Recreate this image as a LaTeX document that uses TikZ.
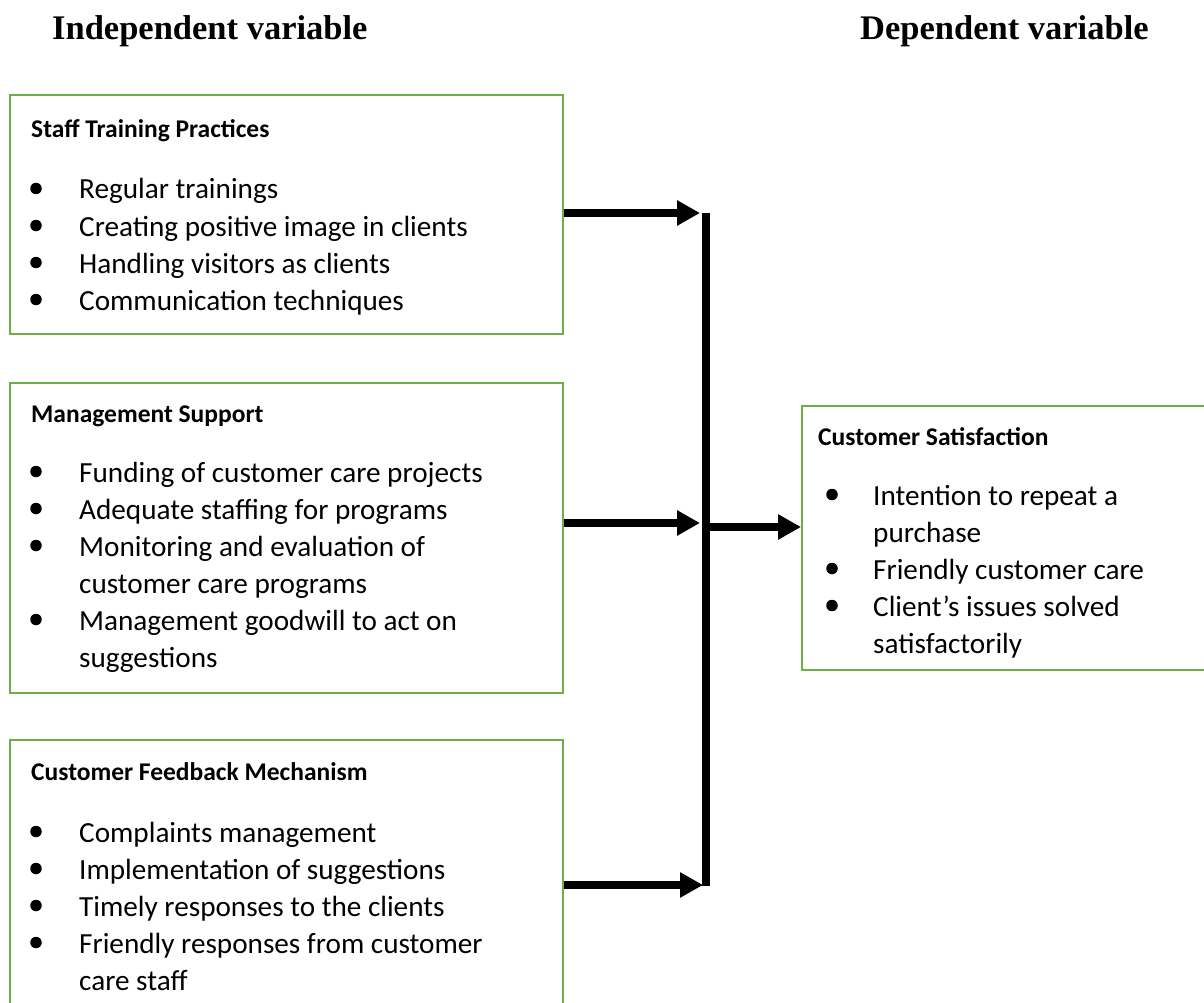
\documentclass[tikz,border=0pt]{standalone}
\usepackage{fontspec}
\setmainfont{Carlito}
\newfontfamily\titlefont{Liberation Serif}
\usetikzlibrary{arrows.meta}
\definecolor{boxgreen}{RGB}{112,173,71}
\tikzset{
  gbox/.style={draw=boxgreen, line width=2pt, inner sep=0pt},
  txt/.style={anchor=base west, inner sep=0pt, font=\fontsize{29.2}{36.9}\selectfont},
  hdr/.style={anchor=base west, inner sep=0pt, font=\fontsize{25.5}{30}\selectfont\bfseries},
  ttl/.style={anchor=base west, inner sep=0pt, font=\fontsize{34.5}{40}\selectfont\titlefont\bfseries},
  bul/.style={circle, fill=black, inner sep=0pt, minimum size=11.5pt, yshift=10.5pt},
  arr/.style={line width=7.5pt, -{Triangle[length=23pt,width=24pt]}},
  bar/.style={line width=8pt},
}
\begin{document}
\begin{tikzpicture}[x=1pt,y=-1pt]
\useasboundingbox (0,0) rectangle (1204,1003);
\fill[white] (0,0) rectangle (1204,1003);

% titles
\node[ttl] (tl) at (52,39.3) {Independent variable};
\node[ttl] (tr) at (860,39.3) {Dependent variable};

% boxes
\node[gbox, minimum width=553pt, minimum height=239pt] (b1) at (286.5,214.5) {};
\node[gbox, minimum width=553pt, minimum height=310pt] (b2) at (286.5,538) {};
\node[gbox, minimum width=553pt, minimum height=300pt] (b3) at (286.5,890) {};
\node[gbox, minimum width=438pt, minimum height=264pt] (b4) at (1021,538) {};

% box 1
\node[hdr] (h1) at (31,138) {Staff Training Practices};
\node[bul] (p11) at (36,199) {};
\node[txt] (i11) at (79,199) {Regular trainings};
\node[bul] (p12) at (36,236) {};
\node[txt] (i12) at (79,236) {Creating positive image in clients};
\node[bul] (p13) at (36,273) {};
\node[txt] (i13) at (79,273) {Handling visitors as clients};
\node[bul] (p14) at (36,310) {};
\node[txt] (i14) at (79,310) {Communication techniques};

% box 2
\node[hdr] (h2) at (31,422) {Management Support};
\node[bul] (p21) at (36,482) {};
\node[txt] (i21) at (79,482) {Funding of customer care projects};
\node[bul] (p22) at (36,519) {};
\node[txt] (i22) at (79,519) {Adequate staffing for programs};
\node[bul] (p23) at (36,556) {};
\node[txt] (i23) at (79,556) {Monitoring and evaluation of};
\node[txt] (i23b) at (79,593) {customer care programs};
\node[bul] (p24) at (36,630) {};
\node[txt] (i24) at (79,630) {Management goodwill to act on};
\node[txt] (i24b) at (79,667) {suggestions};

% box 3
\node[hdr] (h3) at (31,780) {Customer Feedback Mechanism};
\node[bul] (p31) at (36,842) {};
\node[txt] (i31) at (79,842) {Complaints management};
\node[bul] (p32) at (36,879) {};
\node[txt] (i32) at (79,879) {Implementation of suggestions};
\node[bul] (p33) at (36,916) {};
\node[txt] (i33) at (79,916) {Timely responses to the clients};
\node[bul] (p34) at (36,953) {};
\node[txt] (i34) at (79,953) {Friendly responses from customer};
\node[txt] (i34b) at (79,990) {care staff};

% box 4
\node[hdr] (h4) at (818,445) {Customer Satisfaction};
\node[bul] (p41) at (832,505) {};
\node[txt] (i41) at (873,505) {Intention to repeat a};
\node[txt] (i41b) at (873,542) {purchase};
\node[bul] (p42) at (832,579) {};
\node[txt] (i42) at (873,579) {Friendly customer care};
\node[bul] (p43) at (832,616) {};
\node[txt] (i43) at (873,616) {Client’s issues solved};
\node[txt] (i43b) at (873,653) {satisfactorily};

% connectors
\coordinate (t1) at (700,213);
\coordinate (t2) at (700,523);
\coordinate (t3) at (703,885);
\coordinate (bt) at (706,213);
\coordinate (bb) at (706,886);
\coordinate (o) at (710,527);
\draw[arr] (b1.east |- t1) -- (t1);
\draw[arr] (b2.east |- t2) -- (t2);
\draw[arr] (b3.east |- t3) -- (t3);
\draw[bar] (bt) -- (bb);
\draw[arr] (o) -- (b4.west |- o);
\end{tikzpicture}
\end{document}
